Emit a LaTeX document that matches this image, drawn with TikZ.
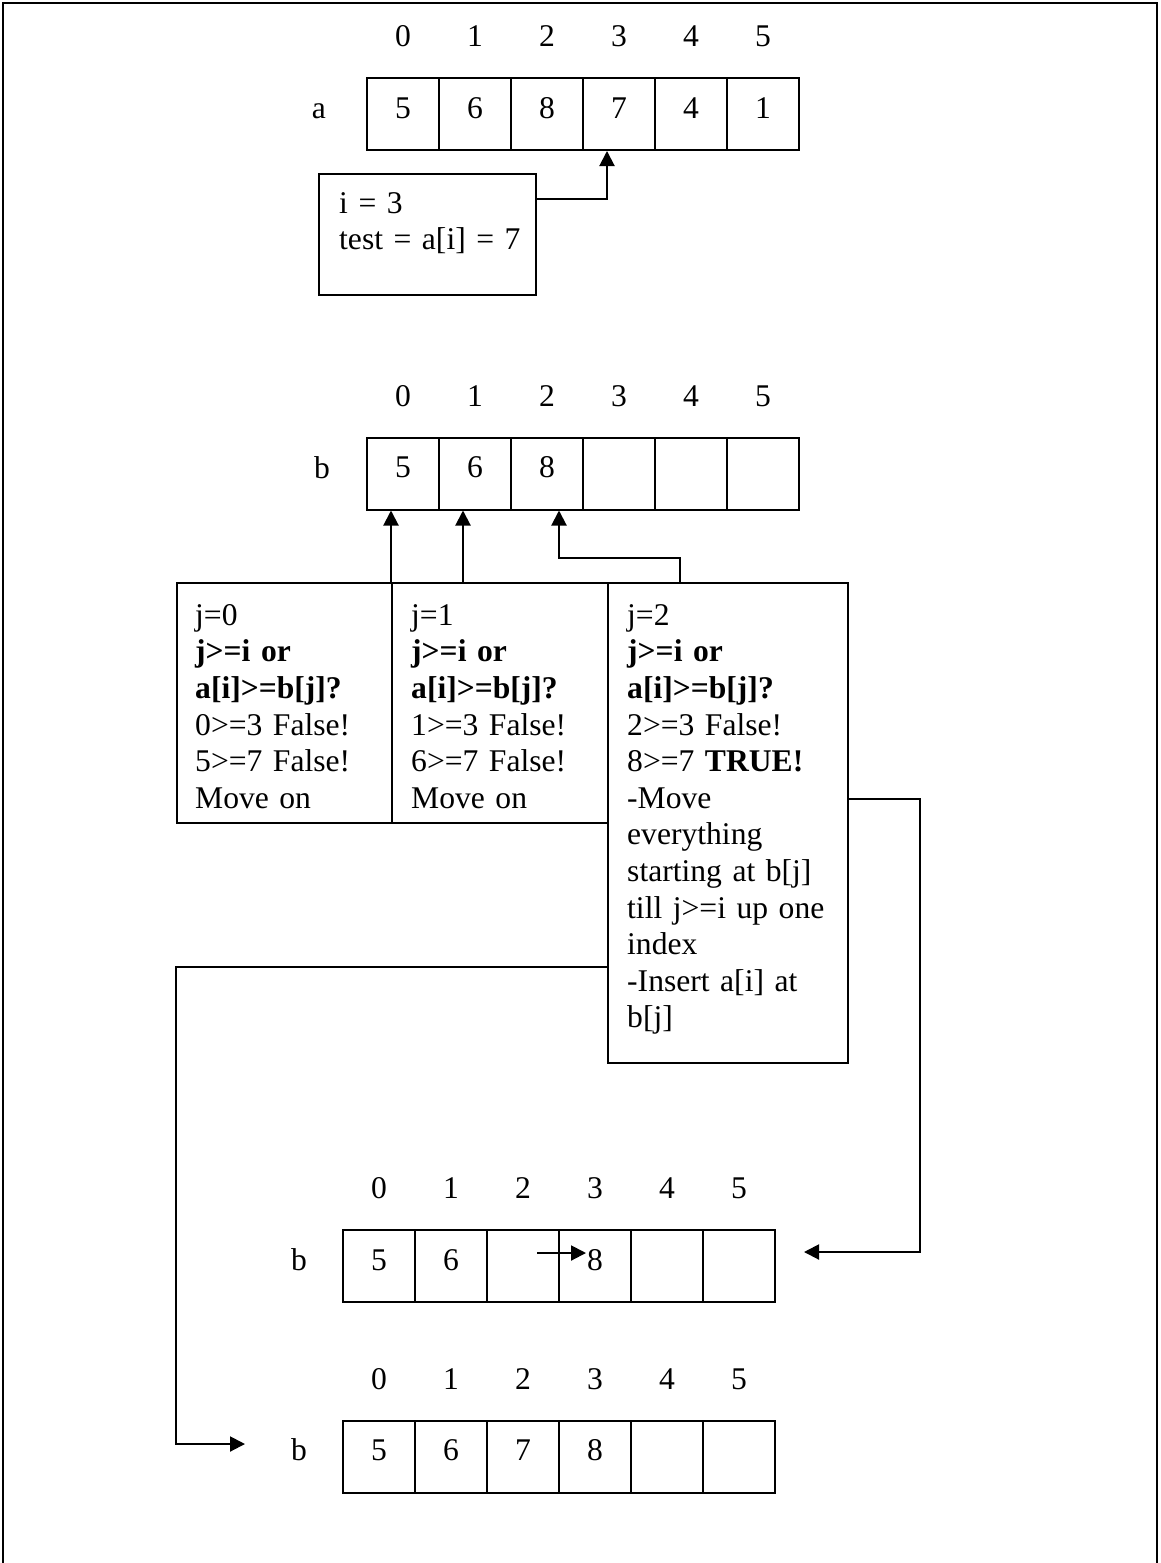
\documentclass[tikz,border=0pt]{standalone}
\usepackage{fontspec}
\setmainfont{Liberation Serif}
\usetikzlibrary{positioning,arrows.meta}

\begin{document}
\begin{tikzpicture}[x=1pt,y=-1pt,
  every node/.style={font=\fontsize{31.6}{36.6}\selectfont},
  cell/.style={draw,line width=2pt,minimum size=72pt,inner sep=0pt,text height=21pt,text depth=13pt},
  idx/.style={anchor=base,inner sep=0pt},
  lbl/.style={anchor=base,inner sep=0pt},
  box/.style={draw,line width=2pt,anchor=north west,inner sep=0pt},
  txt/.style={anchor=north west,inner sep=0pt,text width=215pt,align=left},
  arr/.style={-{Triangle[length=15pt,width=15pt]},line width=2pt}]
\useasboundingbox (0,0) rectangle (1160,1563);
\draw[line width=1.5pt] (3,1563) -- (3,3) -- (1157,3) -- (1157,1563);

\foreach \v [count=\k from 0] in {5,6,8,7,4,1} {
  \node[cell] (a\k) at ({403+72*\k},114) {\v};
  \node[idx] (ai\k) at ([yshift=30.5pt]a\k.north) {\k};
}
\node[lbl] (la) at (319,118) {a};

\foreach \v [count=\k from 0] in {5,6,8,{},{},{}} {
  \node[cell] (b\k) at ({403+72*\k},473.5) {\v};
  \node[idx] (bi\k) at ([yshift=30.5pt]b\k.north) {\k};
}
\node[lbl] (lb) at (322,478) {b};

\foreach \v [count=\k from 0] in {5,6,{},8,{},{}} {
  \node[cell] (c\k) at ({379+72*\k},1266) {\v};
  \node[idx] (ci\k) at ([yshift=30.5pt]c\k.north) {\k};
}
\node[lbl] (lc) at (299,1270) {b};

\foreach \v [count=\k from 0] in {5,6,7,8,{},{}} {
  \node[cell] (d\k) at ({379+72*\k},1456.5) {\v};
  \node[idx] (di\k) at ([yshift=30.5pt]d\k.north) {\k};
}
\node[lbl] (ld) at (299,1460) {b};

\node[box,minimum width=217pt,minimum height=121pt] (ibox) at (318,173) {};
\node[txt] (itxt) at ([xshift=21pt,yshift=-14.4pt]ibox.north west) {\strut i = 3\\test = a[i] = 7};

\node[box,minimum width=215pt,minimum height=240pt] (j0) at (176,582) {};
\node[box,minimum width=216pt,minimum height=240pt] (j1) at (391,582) {};
\node[box,minimum width=240pt,minimum height=480pt] (j2) at (607,582) {};
\node[txt] (t0) at ([xshift=19pt,yshift=-17.4pt]j0.north west) {\strut j=0\\\textbf{j>=i or}\\\textbf{a[i]>=b[j]?}\\0>=3 False!\\5>=7 False!\\Move on};
\node[txt] (t1) at ([xshift=20pt,yshift=-17.4pt]j1.north west) {\strut j=1\\\textbf{j>=i or}\\\textbf{a[i]>=b[j]?}\\1>=3 False!\\6>=7 False!\\Move on};
\node[txt] (t2) at ([xshift=20pt,yshift=-17.4pt]j2.north west) {\strut j=2\\\textbf{j>=i or}\\\textbf{a[i]>=b[j]?}\\2>=3 False!\\8>=7 \textbf{TRUE!}\\-Move\\everything\\starting at b[j]\\till j>=i up one\\index\\-Insert a[i] at\\b[j]};

\coordinate (k2) at (559,558);
\coordinate (rbend) at (920,0);
\coordinate (ctip) at ([xshift=28pt,yshift=14pt]c5.east);
\coordinate (dtip) at ([xshift=-97pt,yshift=12.5pt]d0.west);

\draw[arr] ([yshift=35.5pt]ibox.east) -| ([xshift=-12pt]a3.south);
\draw[arr] ([xshift=-12pt]b0.south |- j0.north) -- ([xshift=-12pt]b0.south);
\draw[arr] ([xshift=-12pt]b1.south |- j1.north) -- ([xshift=-12pt]b1.south);
\draw[arr] ([xshift=-48pt]j2.north) |- (k2) -- ([xshift=12pt]b2.south);
\draw[arr] ([yshift=24pt]j2.east) -| (rbend |- ctip) -- (ctip);
\draw[arr] ([yshift=-144pt]j2.west) -| (j0.west |- dtip) -- (dtip);
\draw[arr] ([xshift=14pt,yshift=13pt]c2.center) -- ([xshift=-9pt,yshift=13pt]c3.center);
\end{tikzpicture}
\end{document}
